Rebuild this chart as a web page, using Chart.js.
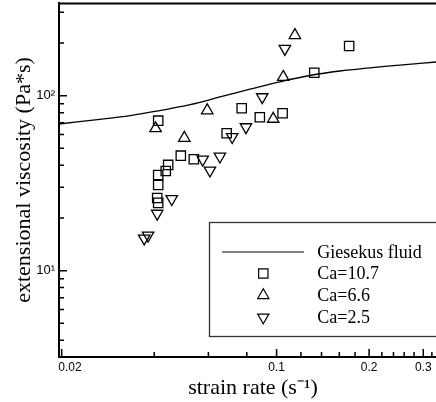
<!DOCTYPE html>
<html>
<head>
<meta charset="utf-8">
<script src="https://cdn.jsdelivr.net/npm/chart.js@4.4.0/dist/chart.umd.min.js"></script>
<style>
  body { margin: 0; background: #fff; }
  #box { width: 436px; height: 402px; }
</style>
</head>
<body>
<div id="box"><canvas id="myChart" width="436" height="402"></canvas></div>
<script>
// Giesekus model curve
const giesekusRate = [0.0196, 0.0266, 0.0334, 0.0417, 0.0523, 0.0654, 0.0819, 0.1025, 0.1283, 0.1606, 0.201, 0.2517, 0.3551];
const giesekusVisc = [68.9, 73.2, 76.9, 82.2, 88.9, 98.3, 108.9, 120.1, 130.4, 138.4, 144.3, 149.6, 157.4];

// Ca=10.7 (squares)
const ca107Rate = [0.0412, 0.0488, 0.0538, 0.0444, 0.0436, 0.0412, 0.0412, 0.0409, 0.0412, 0.0688, 0.077, 0.0882, 0.1046, 0.1326, 0.1722];
const ca107Visc = [72.0, 45.4, 43.3, 40.2, 37.1, 35.2, 30.9, 26.0, 24.4, 61.0, 84.7, 75.3, 79.3, 135.3, 192.3];

// Ca=6.6 (triangles up)
const ca66Rate = [0.0404, 0.0501, 0.0595, 0.0975, 0.1051, 0.1147];
const ca66Visc = [65.0, 57.3, 82.3, 73.6, 127.8, 221.5];

// Ca=2.5 (triangles down)
const ca25Rate = [0.0371, 0.0382, 0.0409, 0.0456, 0.0575, 0.0607, 0.0654, 0.0717, 0.0795, 0.0898, 0.1064];
const ca25Visc = [15.3, 15.9, 21.2, 25.7, 43.2, 37.4, 45.0, 58.1, 66.2, 98.2, 185.5];

// axis ticks
const xTicks = [0.02, 0.04, 0.06, 0.08, 0.1, 0.12, 0.14, 0.16, 0.18, 0.2, 0.22, 0.24, 0.26, 0.28, 0.3, 0.32];
const xTickLabels = { 0.02: "     0.02", 0.1: "0.1", 0.2: "0.2", 0.3: "0.3" };
const yTicks = [4, 5, 6, 7, 8, 9, 10, 20, 30, 40, 50, 60, 70, 80, 90, 100, 200, 300];
const yTickLabels = { 10: "10\u00B9", 100: "10\u00B2" };

const toPoints = (xs, ys) => xs.map((x, i) => ({ x: x, y: ys[i] }));

const bgPlugin = {
  id: "whiteBg",
  beforeDraw: (chart) => {
    const { ctx } = chart;
    ctx.save();
    ctx.globalCompositeOperation = "destination-over";
    ctx.fillStyle = "#fff";
    ctx.fillRect(0, 0, chart.width, chart.height);
    ctx.restore();
  },
};

// inward tick marks + top frame line
const frameTicks = {
  id: "frameTicks",
  afterDraw: (chart) => {
    const { ctx, chartArea: a, scales } = chart;
    ctx.save();
    ctx.strokeStyle = "#000";
    ctx.lineWidth = 1.5;
    ctx.beginPath();
    xTicks.forEach((v) => {
      const px = scales.x.getPixelForValue(v);
      const len = xTickLabels[v] ? 8 : 5;
      ctx.moveTo(px, a.bottom);
      ctx.lineTo(px, a.bottom - len);
    });
    yTicks.forEach((v) => {
      const py = scales.y.getPixelForValue(v);
      const len = yTickLabels[v] ? 8 : 5;
      ctx.moveTo(a.left, py);
      ctx.lineTo(a.left + len, py);
    });
    ctx.stroke();
    ctx.lineWidth = 2;
    ctx.beginPath();
    ctx.moveTo(a.left - 1, a.top + 0.5);
    ctx.lineTo(a.right, a.top + 0.5);
    ctx.stroke();
    ctx.restore();
  },
};

function marker(ctx, style, rotated, x, y, r) {
  ctx.beginPath();
  if (style === "rect") {
    const s = r * Math.SQRT1_2;
    ctx.rect(x - s, y - s, 2 * s, 2 * s);
  } else {
    const dir = rotated ? -1 : 1;
    ctx.moveTo(x, y - dir * r);
    ctx.lineTo(x + r * 0.866, y + dir * r * 0.5);
    ctx.lineTo(x - r * 0.866, y + dir * r * 0.5);
    ctx.closePath();
  }
  ctx.stroke();
}

// boxed legend inside the plot
const boxLegend = {
  id: "boxLegend",
  afterDatasetsDraw: (chart) => {
    const { ctx } = chart;
    ctx.save();
    ctx.fillStyle = "#fff";
    ctx.fillRect(209.5, 222.5, 260, 114);
    ctx.strokeStyle = "#333";
    ctx.lineWidth = 1.3;
    ctx.strokeRect(209.5, 222.5, 260, 114);
    const rows = [252, 273.5, 295.3, 317.3];
    ctx.font = "18px 'Liberation Serif', 'Times New Roman', serif";
    ctx.textBaseline = "middle";
    ctx.fillStyle = "#000";
    chart.data.datasets.forEach((ds, i) => {
      const y = rows[i];
      ctx.strokeStyle = "#000";
      if (ds.showLine) {
        ctx.strokeStyle = "#555";
        ctx.lineWidth = 1.5;
        ctx.beginPath();
        ctx.moveTo(222, y);
        ctx.lineTo(304, y);
        ctx.stroke();
      } else {
        ctx.lineWidth = 1.2;
        marker(ctx, ds.pointStyle, !!ds.pointRotation, 263.3, y, ds.pointStyle === "rect" ? 6.6 : 6.5);
      }
      ctx.fillText(ds.label, 317.3, y + 1);
    });
    ctx.restore();
  },
};

const pointOpts = {
  showLine: false,
  borderColor: "#000",
  backgroundColor: "rgba(0,0,0,0)",
  borderWidth: 1.3,
  pointRadius: 6.6,
};

new Chart(document.getElementById("myChart"), {
  type: "scatter",
  data: {
    datasets: [
      {
        label: "Giesekus fluid",
        data: toPoints(giesekusRate, giesekusVisc),
        showLine: true,
        borderColor: "#000",
        borderWidth: 1.3,
        pointRadius: 0,
        tension: 0.4,
      },
      Object.assign({ label: "Ca=10.7", data: toPoints(ca107Rate, ca107Visc), pointStyle: "rect" }, pointOpts),
      Object.assign({ label: "Ca=6.6", data: toPoints(ca66Rate, ca66Visc), pointStyle: "triangle" }, pointOpts),
      Object.assign({ label: "Ca=2.5", data: toPoints(ca25Rate, ca25Visc), pointStyle: "triangle", pointRotation: 180 }, pointOpts),
    ],
  },
  options: {
    responsive: false,
    animation: false,
    devicePixelRatio: 1,
    layout: { autoPadding: false, padding: { top: 3, right: 0, bottom: 0, left: 0 } },
    plugins: {
      legend: { display: false },
      tooltip: { enabled: false },
    },
    scales: {
      x: {
        type: "logarithmic",
        min: 0.0196,
        max: 0.33,
        afterFit: (scale) => {
          scale.height = 45;
          scale.paddingLeft = 0;
          scale.paddingRight = 0;
        },
        afterBuildTicks: (scale) => { scale.ticks = xTicks.map((v) => ({ value: v })); },
        grid: { display: false, drawTicks: false },
        border: { display: true, color: "#000", width: 2 },
        ticks: {
          autoSkip: false,
          maxRotation: 0,
          padding: 3,
          color: "#000",
          font: { family: "'Liberation Sans', Arial, sans-serif", size: 12 },
          callback: (v) => xTickLabels[v] || "",
        },
        title: {
          display: true,
          text: "  strain rate (s\u207B\u00B9)",
          color: "#000",
          font: { family: "'Liberation Serif', 'Times New Roman', serif", size: 22 },
          padding: { top: 0, bottom: 1 },
        },
      },
      y: {
        type: "logarithmic",
        min: 3.21,
        max: 338.6,
        afterFit: (scale) => {
          scale.width = 59;
          scale.paddingTop = 0;
          scale.paddingBottom = 0;
        },
        afterBuildTicks: (scale) => { scale.ticks = yTicks.map((v) => ({ value: v })); },
        grid: { display: false, drawTicks: false },
        border: { display: true, color: "#000", width: 2 },
        ticks: {
          autoSkip: false,
          padding: 4,
          color: "#000",
          font: { family: "'Liberation Sans', Arial, sans-serif", size: 13 },
          callback: (v) => yTickLabels[v] || "",
        },
        title: {
          display: true,
          text: "extensional viscosity (Pa*s)",
          color: "#000",
          font: { family: "'Liberation Serif', 'Times New Roman', serif", size: 22 },
          padding: { top: 11, bottom: 0 },
        },
      },
    },
  },
  plugins: [bgPlugin, frameTicks, boxLegend],
});
</script>
</body>
</html>
